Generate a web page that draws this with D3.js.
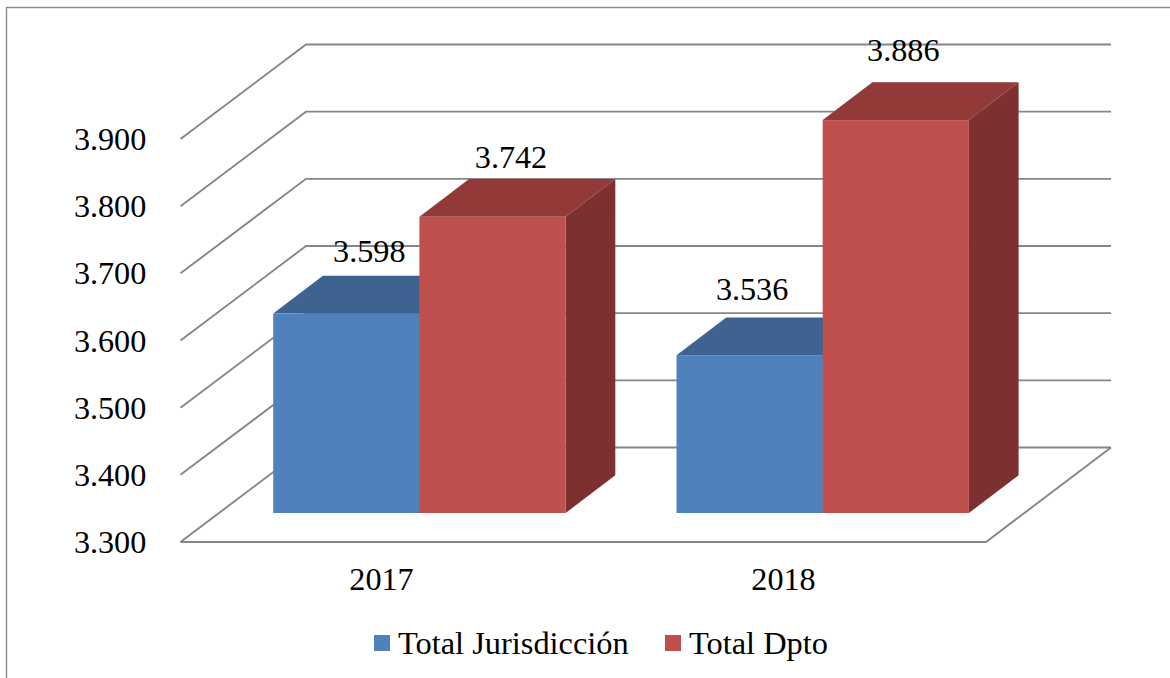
<!DOCTYPE html>
<html><head><meta charset="utf-8">
<script src="https://cdn.jsdelivr.net/npm/d3@7/dist/d3.min.js"></script>
<style>html,body{margin:0;padding:0;background:#fff}svg{display:block}text{font-family:"Liberation Serif",serif;fill:#000}</style>
</head><body><svg id="c" width="1170" height="678"></svg>
<script>
const categories = ["2017", "2018"];
const seriesNames = ["Total Jurisdicción", "Total Dpto"];
const totalJurisdiccion = [3598, 3536];
const totalDpto = [3742, 3886];
const tickValues = [3300, 3400, 3500, 3600, 3700, 3800, 3900];
const colors = {front:["#4f81bd","#c0504d"], top:["#3e6390","#923a38"], side:["#35567c","#7c3130"]};

const fmt = v => d3.format(".3f")(v/1000);
const svg = d3.select("#c");
const grid = "#868686";

// frame
svg.append("path").attr("d","M6.5,678V7.5H1170").attr("fill","none").attr("stroke","#8a8a8a").attr("stroke-width",1.4);

// projected geometry
const y = d3.scaleLinear().domain([3300,3900]).range([542,139]);
const wall = {dx:125.5, dy:-94.5}, barRaise = -28.3, depth = {dx:49.7, dy:-37.8};
const x0 = 180.5, xFrontEnd = 986, xBackEnd = 1111;

// gridlines
const line = d3.line();
tickValues.forEach(t=>{
  svg.append("path").attr("fill","none").attr("stroke",grid).attr("stroke-width",1.9)
    .attr("d", line([[x0,y(t)],[x0+wall.dx,y(t)+wall.dy],[xBackEnd,y(t)+wall.dy]]));
});
svg.append("path").attr("fill","none").attr("stroke",grid).attr("stroke-width",1.9)
  .attr("d", line([[x0,y(3300)],[xFrontEnd,y(3300)],[xBackEnd,y(3300)+wall.dy]]));

// y tick labels
svg.selectAll("text.tick").data(tickValues).join("text").attr("class","tick")
  .attr("x",146.3).attr("y",d=>y(d)+11).attr("text-anchor","end").attr("font-size",32.2).text(fmt);

// bars
const xCat = d3.scaleOrdinal().domain(categories).range([273.2,676.5]);
const barW = 146.2;
const series = [totalJurisdiccion,totalDpto];
const baseY = 513;
function bar(xl,v,s){
  const yt = y(v)+barRaise, xr = xl+barW;
  const g = svg.append("g");
  g.append("polygon").attr("fill",colors.side[s]).attr("points",[[xr,yt],[xr+depth.dx,yt+depth.dy],[xr+depth.dx,baseY+depth.dy],[xr,baseY]].join(" "));
  g.append("polygon").attr("fill",colors.top[s]).attr("points",[[xl,yt],[xl+depth.dx,yt+depth.dy],[xr+depth.dx,yt+depth.dy],[xr,yt]].join(" "));
  // the blue face runs one pixel under the red one so no seam shows between them
  g.append("rect").attr("x",xl).attr("y",yt).attr("width",barW+(s===0?1:0)).attr("height",baseY-yt).attr("fill",colors.front[s]);
}
categories.forEach((c,i)=>series.forEach((vals,s)=>bar(xCat(c)+s*barW,vals[i],s)));

// data labels (hand-placed in the original, offset from each bar's top-centre)
const labelDX = [[23,18.5],[2.5,7.5]], labelDY = [[-51.5,-48.5],[-55,-59]];
categories.forEach((c,i)=>series.forEach((vals,s)=>{
  svg.append("text").attr("x",xCat(c)+s*barW+barW/2+labelDX[i][s]).attr("y",y(vals[i])+barRaise+labelDY[i][s])
    .attr("text-anchor","middle").attr("font-size",32.2).text(fmt(vals[i]));
}));

// category labels
const catX = d3.scaleOrdinal().domain(categories).range([381.5,783.5]);
svg.selectAll("text.cat").data(categories).join("text").attr("class","cat")
  .attr("x",d=>catX(d)).attr("y",590).attr("text-anchor","middle").attr("font-size",32.2).text(d=>d);

// legend
const legX = [374,665], legT = [398,689];
seriesNames.forEach((n,i)=>{
  svg.append("rect").attr("x",legX[i]).attr("y",635).attr("width",16).attr("height",16).attr("fill",colors.front[i]);
  svg.append("text").attr("x",legT[i]).attr("y",654).attr("font-size",32.4).text(n);
});
</script></body></html>
